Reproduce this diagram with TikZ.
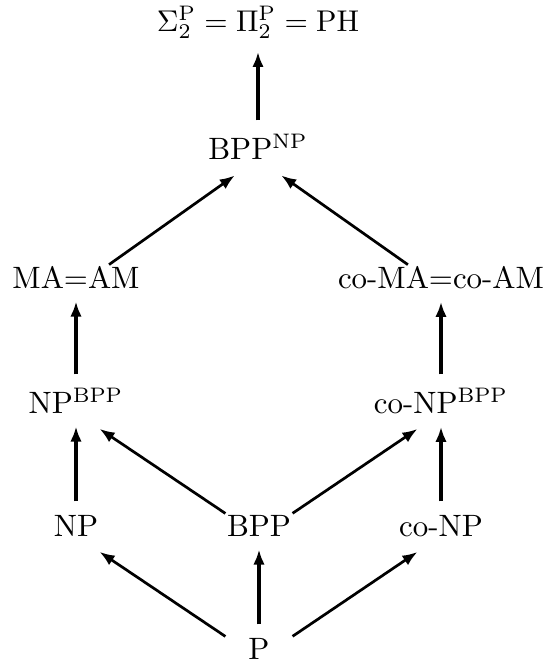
\documentclass[tikz,border=0pt]{standalone}
\usepackage{amsmath}
\usetikzlibrary{arrows.meta}

\begin{document}
\begin{tikzpicture}[x=3.3333pt, y=-3.3333pt]
	\useasboundingbox (0,0) rectangle (54.8,66.7);
	\begin{scope}
		\tikzstyle{every node}=[anchor=base, inner sep=4.3pt, font=\fontsize{10.3}{12}\selectfont]
		\tikzstyle{up}=[->, >={Latex[length=5pt, width=3.8pt]}, line width=1.1pt]
		\tikzstyle{diag}=[->, >={Latex[length=5pt, width=3.8pt]}, line width=0.9pt, shorten <=13.5pt, shorten >=9.5pt]

		\node (top)     at (25.8, 3.1)  {$\Sigma_2^{\mathrm{P}} = \Pi_2^{\mathrm{P}} = \mathrm{PH}$};
		\node (bppnp)   at (25.8, 15.9) {BPP$^{\mathrm{NP}}$};

		\node (ma)      at (7.6, 28.8)  {MA=AM};
		\node (coma)    at (44.1, 28.8) {co-MA=co-AM};

		\node (npbpp)   at (7.6, 41.3)  {NP$^{\mathrm{BPP}}$};
		\node (conpbpp) at (44.1, 41.3) {co-NP$^{\mathrm{BPP}}$};

		\node (np)      at (7.6, 53.6)  {NP};
		\node (bpp)     at (25.9, 53.6) {BPP};
		\node (conp)    at (44.1, 53.6) {co-NP};

		\node (p)       at (25.9, 65.9) {P};


		\draw [up] (p) to (bpp);
		\draw [up] (np) to (npbpp);
		\draw [up] (conp) to (conpbpp);
		\draw [up] (npbpp) to (ma);
		\draw [up] (conpbpp) to (coma);
		\draw [up] (bppnp) to (top);

		\draw [diag] (p.base) to (np.base);
		\draw [diag] (p.base) to (conp.base);
		\draw [diag] (bpp.base) to (npbpp.base);
		\draw [diag] (bpp.base) to (conpbpp.base);
		\draw [diag] (ma.base) to (bppnp.base);
		\draw [diag] (coma.base) to (bppnp.base);

	\end{scope}
\end{tikzpicture}
\end{document}
